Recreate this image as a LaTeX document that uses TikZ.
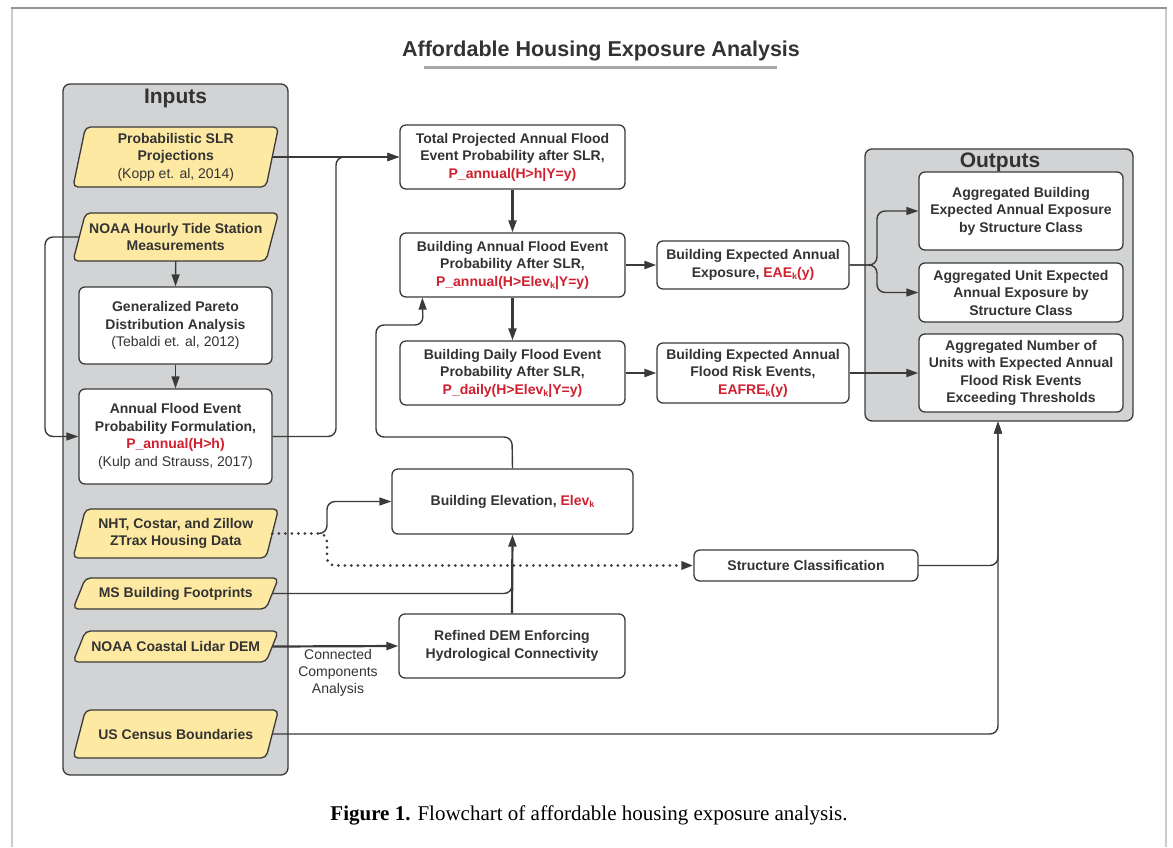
\documentclass[tikz,border=0pt]{standalone}
\usepackage{fontspec}
\setmainfont{Liberation Sans}
\newfontfamily\capserif{Liberation Serif}
\usetikzlibrary{arrows.meta}
\definecolor{txt}{HTML}{333333}
\definecolor{ln}{HTML}{3A3A3A}
\definecolor{pan}{HTML}{D1D3D4}
\definecolor{yel}{HTML}{FDE9A2}
\definecolor{rd}{HTML}{D0202F}
\newcommand\ksub{\raisebox{-0.35ex}{\fontsize{9}{9}\selectfont k}}
\newcommand\rtx[1]{\textcolor{rd}{#1}}
\tikzset{
  boxnode/.style={draw=ln, line width=1.3pt, rounded corners=6pt, fill=white, align=center,
    text=txt, font=\fontsize{14}{17.5}\selectfont\bfseries, inner sep=0pt},
  paranode/.style={align=center, text=txt, font=\fontsize{14}{17.5}\selectfont\bfseries,
    inner sep=0pt, minimum width=193},
  parashape/.style={draw=ln, line width=1.3pt, fill=yel, rounded corners=5pt},
  panel/.style={draw=ln, fill=pan, rounded corners=7pt, line width=1.3pt},
  conn/.style={draw=ln, line width=1.4pt, rounded corners=8pt, -{Triangle[length=12pt,width=8pt]}},
  plainline/.style={draw=ln, line width=1.4pt, rounded corners=8pt},
  thickconn/.style={conn, line width=2.2pt},
  dotconn/.style={draw=ln, line width=3pt, line cap=round, dash pattern=on 0pt off 6.5pt,
    rounded corners=8pt, -{Triangle[length=12pt,width=8pt]}},
  paneltitle/.style={text=txt, font=\fontsize{21}{21}\selectfont\bfseries, inner sep=0pt}
}
\newcommand\inpara[4]{%
  \path[parashape] (85.5,#2) -- (278.5,#2) -- (266,#3) -- (73,#3) -- cycle;
  \node[paranode, minimum height={#3-#2}] (#1) at (175.75,{(#2+#3)/2}) {#4};
}
\begin{document}
\begin{tikzpicture}[x=1pt,y=-1pt]
\useasboundingbox (0,0) rectangle (1173,847);
% frame
\draw[color=black!20, line width=2pt] (12,8) -- (12,847);
\draw[color=black!20, line width=2pt] (1166,8) -- (1166,847);
\draw[color=black!42, line width=1.5pt] (11,8) -- (1167,8);
% title
\node[text=txt, font=\fontsize{21.5}{21.5}\selectfont\bfseries] (title) at (601,51) {Affordable Housing Exposure Analysis};
\draw[color=black!35, line width=3pt] (424,67) -- (777,67);
% panels
\node[panel, minimum width=225, minimum height=691] (inp) at (175.5,429.5) {};
\node[paneltitle] (inptitle) at (175.5,98) {Inputs};
\node[panel, minimum width=268, minimum height=272] (outp) at (999,285) {};
\node[paneltitle] (outptitle) at (1000,162) {Outputs};
% inputs
\inpara{slr}{127}{187}{Probabilistic SLR\\Projections\\{\mdseries (Kopp et. al, 2014)}}
\inpara{tide}{213}{261}{NOAA Hourly Tide Station\\Measurements}
\node[boxnode, minimum width=193, minimum height=77] (gpd) at (175.5,325.5)
  {Generalized Pareto\\Distribution Analysis\\{\mdseries (Tebaldi et. al, 2012)}};
\node[boxnode, minimum width=193, minimum height=95] (afe) at (175.5,436.5)
  {Annual Flood Event\\Probability Formulation,\\\rtx{P\_annual(H>h)}\\{\mdseries (Kulp and Strauss, 2017)}};
\inpara{nht}{509}{558}{NHT, Costar, and Zillow\\ZTrax Housing Data}
\inpara{ms}{578}{609}{MS Building Footprints}
\inpara{lidar}{631}{662}{NOAA Coastal Lidar DEM}
\inpara{census}{710}{758}{US Census Boundaries}
% middle
\node[boxnode, minimum width=225, minimum height=64] (total) at (512.5,157)
  {Total Projected Annual Flood\\Event Probability after SLR,\\\rtx{P\_annual(H>h|Y=y)}};
\node[boxnode, minimum width=225, minimum height=64] (ba) at (512.5,265)
  {Building Annual Flood Event\\Probability After SLR,\\\rtx{P\_annual(H>Elev\ksub|Y=y)}};
\node[boxnode, minimum width=225, minimum height=64] (bd) at (512.5,373)
  {Building Daily Flood Event\\Probability After SLR,\\\rtx{P\_daily(H>Elev\ksub|Y=y)}};
\node[boxnode, minimum width=192, minimum height=48] (eae) at (753,265)
  {Building Expected Annual\\Exposure, \rtx{EAE\ksub(y)}};
\node[boxnode, minimum width=192, minimum height=60] (eafre) at (753,373)
  {Building Expected Annual\\Flood Risk Events,\\\rtx{EAFRE\ksub(y)}};
\node[boxnode, minimum width=241, minimum height=65] (be) at (512.5,501.5)
  {Building Elevation, \rtx{Elev\ksub}};
\node[boxnode, minimum width=226, minimum height=64] (rdem) at (512,646)
  {Refined DEM Enforcing\\Hydrological Connectivity};
\node[boxnode, minimum width=224, minimum height=31] (sc) at (806,565.5)
  {Structure Classification};
% outputs
\node[boxnode, minimum width=204, minimum height=78] (o1) at (1021,211)
  {Aggregated Building\\Expected Annual Exposure\\by Structure Class};
\node[boxnode, minimum width=204, minimum height=59] (o2) at (1021,292.5)
  {Aggregated Unit Expected\\Annual Exposure by\\Structure Class};
\node[boxnode, minimum width=204, minimum height=78] (o3) at (1021,373)
  {Aggregated Number of\\Units with Expected Annual\\Flood Risk Events\\Exceeding Thresholds};
\coordinate (oin) at (998,421.5);
% label
\node[text=txt, font=\fontsize{14}{17}\selectfont, align=center, inner sep=0pt] (cca) at (338,673)
  {Connected\\Components\\Analysis};
% connectors
\draw[thickconn] (slr.east) -- (total.west);
\draw[conn] (afe.east) -- (336,436.5) -- (336,157) -- (total.west);
\draw[conn] (tide.south) -- (gpd.north);
\draw[conn] (gpd.south) -- (afe.north);
\draw[conn] (tide.west) -- (45,237) -- (45,436.5) -- (afe.west);
\draw[thickconn] (total.south) -- (ba.north);
\draw[thickconn] (ba.south) -- (bd.north);
\draw[thickconn] (ba.east) -- (eae.west);
\draw[thickconn] (bd.east) -- (eafre.west);
\draw[conn] (eae.east) -- (877,265) -- (877,211) -- (o1.west);
\draw[conn] (eae.east) -- (877,265) -- (877,292.5) -- (o2.west);
\draw[thickconn] (eafre.east) -- (o3.west);
\draw[conn] (be.north) -- (512,437) -- (376,437) -- (376,325) -- (423,325) -- ([xshift=23pt]ba.south west);
\draw[thickconn] (rdem.north) -- (be.south);
\draw[plainline] (ms.east) -- (512,593.5) -- (512,560);
\draw[thickconn] (lidar.east) -- (rdem.west);
\coordinate (split) at (318,533.5);
\draw[conn] (split) -- (327,533.5) -- (327,501.5) -- (be.west);
\draw[dotconn] (nht.east) -- (327,533.5) -- (327,565.5) -- (sc.west);
\draw[conn] (sc.east) -- (998,565.5) -- (oin);
\draw[conn] (census.east) -- (998,734) -- (oin);
% caption
\node[text=black, font=\capserif\fontsize{21}{21}\selectfont] (cap) at (589,815)
  {\textbf{Figure 1.} Flowchart of affordable housing exposure analysis.};
\end{tikzpicture}
\end{document}
